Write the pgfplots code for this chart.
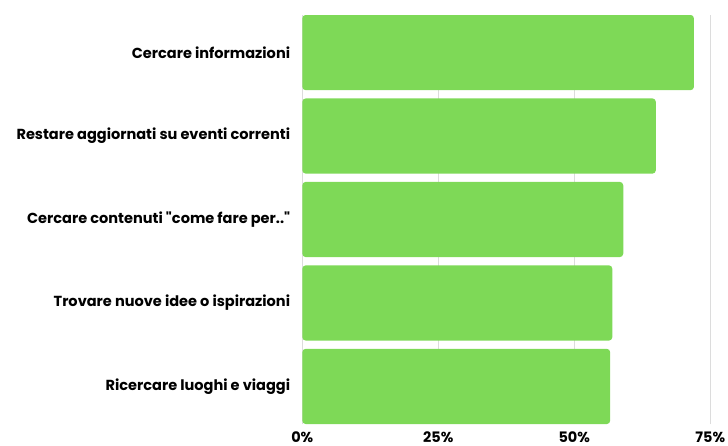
\documentclass[border=0pt]{standalone}
\usepackage{fontspec}
\setmainfont{Poppins}[BoldFont={* Bold}, Ligatures=TeXOff]
\usepackage{pgfplots}
\pgfplotsset{compat=1.18}

\definecolor{barGreen}{HTML}{7ED957}
\definecolor{gridGray}{HTML}{DCDCDC}

\begin{document}
\begin{tikzpicture}
    \begin{axis}[
        name=ax,
        scale only axis,
        width=408bp,
        height=409bp,
        xbar,
        bar width=75.3bp,
        xmin=0, xmax=75,
        ymin=-0.45, ymax=4.45,
        xtick={0,25,50,75},
        xticklabels={0\%,25\%,50\%,75\%},
        ytick={0,1,2,3,4},
        yticklabels={
            Ricercare luoghi e viaggi\hspace{5bp},
            Trovare nuove idee o ispirazioni\hspace{5bp},
            Cercare contenuti "come fare per.."\hspace{1bp},
            Restare aggiornati su eventi correnti\hspace{5bp},
            Cercare informazioni},
        axis line style={draw=none},
        major tick length=0pt,
        xmajorgrids,
        grid style={gridGray, line width=0.8pt},
        tick label style={font=\bfseries},
        xticklabel style={font=\fontsize{14.5}{16}\selectfont\bfseries, anchor=north, inner sep=0pt, yshift=-7.5bp},
        yticklabel style={font=\fontsize{14.6}{16}\selectfont\bfseries, anchor=east, inner sep=0pt, xshift=-12bp},
    ]
        \addplot[fill=barGreen, draw=none, rounded corners=3.5bp]
        coordinates {
            (56.6,0) (57.0,1) (59.0,2) (65.0,3) (72.0,4)};
    \end{axis}
    \pgfresetboundingbox
    \path ([xshift=-302.3bp,yshift=-22bp]ax.south west) rectangle ([xshift=17.7bp,yshift=15bp]ax.north east);
\end{tikzpicture}
\end{document}
